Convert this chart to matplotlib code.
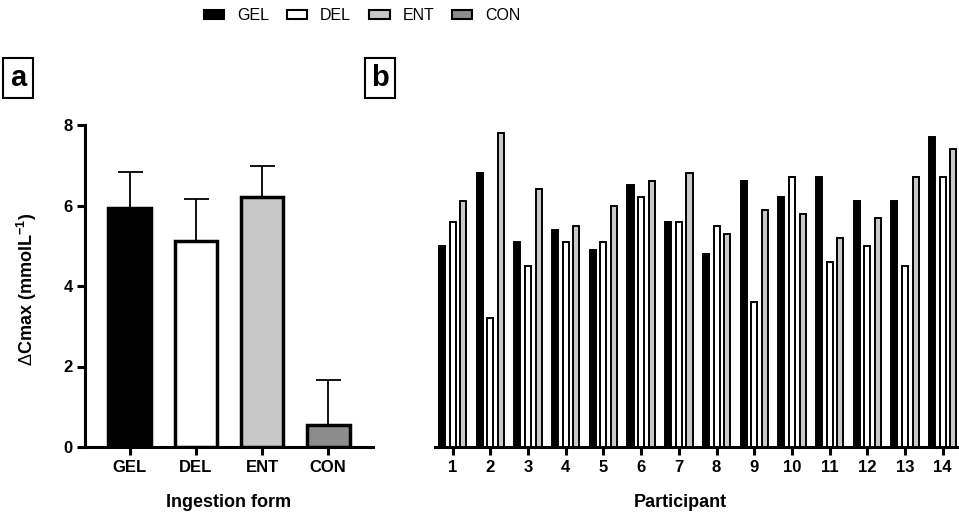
import matplotlib
matplotlib.use("Agg")
import matplotlib.pyplot as plt
import numpy as np
from matplotlib.patches import Patch

plt.rcParams['font.family'] = ['Liberation Sans', 'DejaVu Sans']
plt.rcParams['mathtext.fontset'] = 'custom'
plt.rcParams['mathtext.rm'] = 'Liberation Sans'
plt.rcParams['mathtext.bf'] = 'Liberation Sans:bold'

# ---- data ----
forms = ["GEL", "DEL", "ENT", "CON"]
form_means = [5.95, 5.11, 6.21, 0.55]
form_sd = [0.88, 1.05, 0.78, 1.12]
form_colors = ["#000000", "#ffffff", "#c8c8c8", "#8c8c8c"]

participants = list(range(1, 15))
gel_vals = [5.0, 6.8, 5.1, 5.4, 4.9, 6.5, 5.6, 4.8, 6.6, 6.2, 6.7, 6.1, 6.1, 7.7]
del_vals = [5.6, 3.2, 4.5, 5.1, 5.1, 6.2, 5.6, 5.5, 3.6, 6.7, 4.6, 5.0, 4.5, 6.7]
ent_vals = [6.1, 7.8, 6.4, 5.5, 6.0, 6.6, 6.8, 5.3, 5.9, 5.8, 5.2, 5.7, 6.7, 7.4]

W, H = 959, 515
fig = plt.figure(figsize=(W / 100, H / 100), dpi=100)

def fx(px):
    return px / W

def fy(py):
    return 1 - py / H

base_y = 447
top_y = 125
hgt = base_y - top_y

# ---- panel a ----
axa = fig.add_axes([fx(85), fy(base_y), fx(373 - 85), hgt / H])
xa = np.arange(len(forms))
axa.bar(xa, form_means, width=0.65, color=form_colors, edgecolor="black",
        linewidth=2.5, zorder=3)
axa.errorbar(xa, form_means, yerr=[np.zeros(len(forms)), form_sd], fmt="none",
             ecolor="black", elinewidth=1.3, capsize=9, capthick=1.3, zorder=2)
axa.set_xlim(-0.68, 3.68)
axa.set_ylim(0, 8)
axa.set_yticks([0, 2, 4, 6, 8])
axa.set_xticks(xa)
axa.set_xticklabels(forms)
for s in ["top", "right"]:
    axa.spines[s].set_visible(False)
for s in ["left", "bottom"]:
    axa.spines[s].set_linewidth(2.2)
axa.tick_params(axis="both", width=2.2, length=6, labelsize=12, pad=3)
for lab in axa.get_xticklabels() + axa.get_yticklabels():
    lab.set_fontweight("bold")
axa.set_ylabel(r"$\Delta$Cmax (mmolL$^{\mathbf{-1}}$)", fontsize=13, fontweight="bold")
axa.yaxis.set_label_coords(-0.16, 0.49)
axa.set_xlabel("Ingestion form", fontsize=13, fontweight="bold")
axa.xaxis.set_label_coords(0.5, -0.145)

# ---- panel b ----
axb = fig.add_axes([fx(435), fy(base_y), fx(960 - 435), hgt / H])
xp = np.array(participants, dtype=float)
off = 0.283
bw = 0.16
axb.bar(xp - off, gel_vals, width=bw, color=form_colors[0], edgecolor="black", linewidth=1.4, zorder=3)
axb.bar(xp, del_vals, width=bw, color=form_colors[1], edgecolor="black", linewidth=1.4, zorder=3)
axb.bar(xp + off, ent_vals, width=bw, color=form_colors[2], edgecolor="black", linewidth=1.4, zorder=3)
axb.set_xlim(0.53, 14.46)
axb.set_ylim(0, 8)
axb.set_xticks(xp)
axb.set_xticklabels([str(p) for p in participants])
axb.set_yticks([])
for s in ["top", "right", "left"]:
    axb.spines[s].set_visible(False)
axb.spines["bottom"].set_linewidth(2.2)
axb.tick_params(axis="x", width=2.2, length=6, labelsize=12, pad=3)
for lab in axb.get_xticklabels():
    lab.set_fontweight("bold")
axb.set_xlabel("Participant", fontsize=13, fontweight="bold")
axb.xaxis.set_label_coords((680 - 435) / (960 - 435), -0.145)

# ---- legend ----
handles = [Patch(facecolor=c, edgecolor="black", linewidth=1.5, label=l)
           for c, l in zip(form_colors, forms)]
fig.legend(handles=handles, loc="center", bbox_to_anchor=(fx(362), fy(16)),
           ncol=4, frameon=False, fontsize=11.5, handlelength=1.3, handleheight=0.5,
           handletextpad=0.8, columnspacing=1.1)

# ---- panel letters ----
for letter, px in [("a", 18), ("b", 380)]:
    fig.text(fx(px), fy(78), letter, fontsize=21, fontweight="bold",
             ha="center", va="center",
             bbox=dict(boxstyle="square,pad=0.22", facecolor="white",
                       edgecolor="black", linewidth=1.5))

fig.savefig("out.png", dpi=100)
